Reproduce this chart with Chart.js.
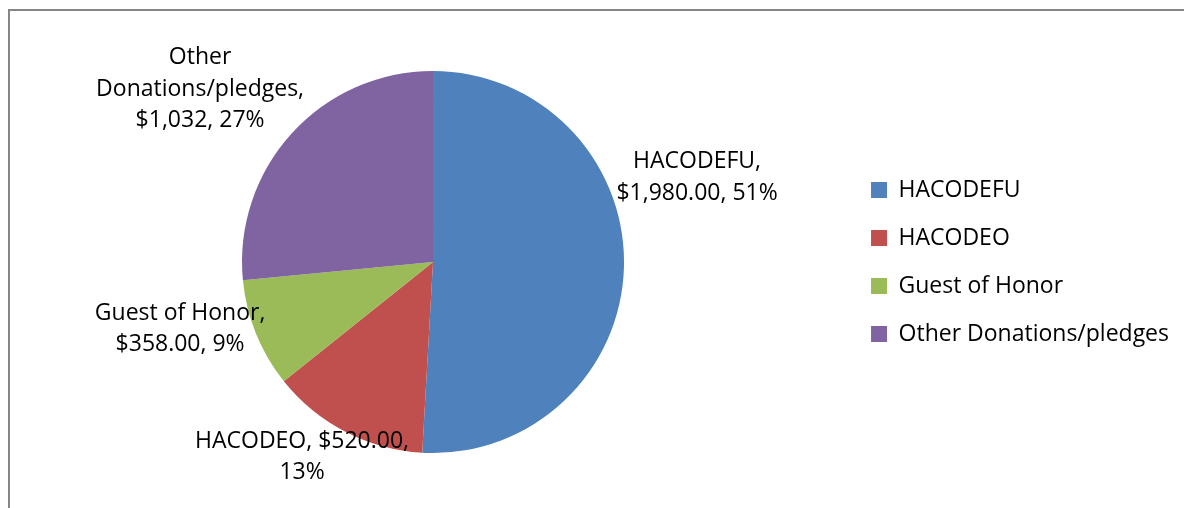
<!DOCTYPE html>
<html>
<head>
<meta charset="utf-8">
<script src="https://cdn.jsdelivr.net/npm/chart.js@4/dist/chart.umd.min.js"></script>
<style>
  html, body { margin: 0; padding: 0; background: #fff; }
  #wrap { width: 1184px; height: 508px; position: relative; }
</style>
</head>
<body>
<div id="wrap"><canvas id="pie"></canvas></div>
<script>
// donation sources
const categories = ['HACODEFU', 'HACODEO', 'Guest of Honor', 'Other Donations/pledges'];
const amounts = [1980, 520, 358, 1032];
const sliceColors = ['#4F81BD', '#C0504D', '#9BBB59', '#8064A2'];
// data label text as shown on the chart
const dataLabels = [
    ['HACODEFU,', '$1,980.00, 51%'],
    ['HACODEO, $520.00,', '13%'],
    ['Guest of Honor,', '$358.00, 9%'],
    ['Other', 'Donations/pledges,', '$1,032, 27%']
];

const FONT = '"Open Sans", sans-serif';
const FONT_SIZE = 23;

// label placement relative to each slice: angle shift (deg) from mid-angle, distance in radii
const labelPlacement = [
    { shift: -19.8, dist: 1.455 },
    { shift: 6.9, dist: 1.22 },
    { shift: 7.7, dist: 1.367 },
    { shift: -5.4, dist: 1.524 }
];

const framePlugin = {
    id: 'frame',
    beforeDraw(chart) {
        const ctx = chart.ctx;
        ctx.save();
        ctx.strokeStyle = '#868686';
        ctx.lineWidth = 2;
        ctx.beginPath();
        ctx.moveTo(9, chart.height);
        ctx.lineTo(9, 10);
        ctx.lineTo(chart.width, 10);
        ctx.stroke();
        ctx.restore();
    }
};

const sliceLabels = {
    id: 'sliceLabels',
    afterDatasetsDraw(chart) {
        const ctx = chart.ctx;
        const arcs = chart.getDatasetMeta(0).data;
        ctx.save();
        ctx.font = FONT_SIZE + 'px ' + FONT;
        ctx.fillStyle = '#000';
        ctx.textAlign = 'center';
        ctx.textBaseline = 'middle';
        const lineH = 31.5;
        arcs.forEach((arc, i) => {
            const p = arc.getProps(['x', 'y', 'startAngle', 'endAngle', 'outerRadius'], true);
            const a = (p.startAngle + p.endAngle) / 2 + labelPlacement[i].shift * Math.PI / 180;
            const r = p.outerRadius * labelPlacement[i].dist;
            const cx = p.x + Math.cos(a) * r;
            const cy = p.y + Math.sin(a) * r + 2;
            const lines = dataLabels[i];
            const top = cy - (lines.length - 1) * lineH / 2;
            lines.forEach((t, k) => ctx.fillText(t, cx, top + k * lineH));
        });
        ctx.restore();
    }
};

new Chart(document.getElementById('pie'), {
    type: 'pie',
    data: {
        labels: categories,
        datasets: [{
            data: amounts,
            backgroundColor: sliceColors,
            borderWidth: 0
        }]
    },
    options: {
        responsive: true,
        maintainAspectRatio: false,
        animation: false,
        layout: { padding: { top: 71, bottom: 55, left: 20, right: 5 } },
        plugins: {
            legend: {
                position: 'right',
                labels: {
                    boxWidth: 16,
                    boxHeight: 16,
                    padding: 25,
                    color: '#000',
                    font: { family: FONT, size: FONT_SIZE }
                }
            },
            tooltip: { enabled: false }
        }
    },
    plugins: [framePlugin, sliceLabels]
});
</script>
</body>
</html>
